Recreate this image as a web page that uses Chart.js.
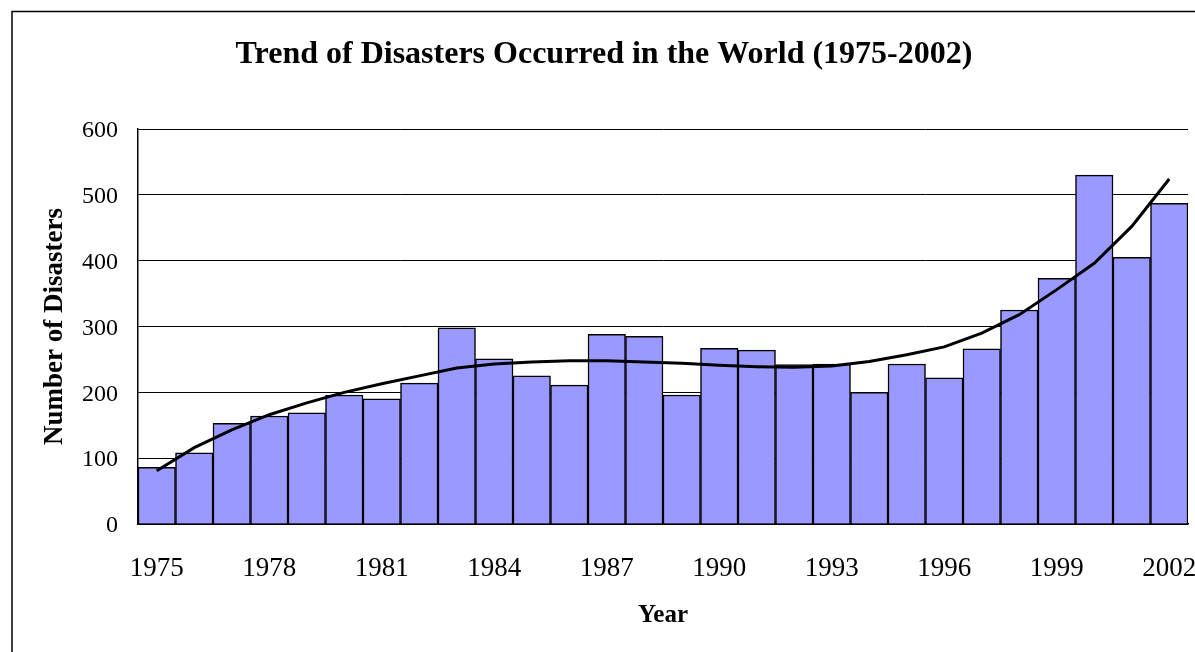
<!DOCTYPE html>
<html>
<head>
<meta charset="utf-8">
<style>
  html, body { margin: 0; padding: 0; background: #fff; }
  #wrap { width: 1195px; height: 652px; position: relative; }
</style>
<script src="https://cdn.jsdelivr.net/npm/chart.js@4.4.1/dist/chart.umd.min.js"></script>
</head>
<body>
<div id="wrap"><canvas id="c" width="1195" height="652"></canvas></div>
<script>
// ---- data ----
const years = ['1975','1976','1977','1978','1979','1980','1981','1982','1983','1984',
               '1985','1986','1987','1988','1989','1990','1991','1992','1993','1994',
               '1995','1996','1997','1998','1999','2000','2001','2002'];
const disasters = [86, 108, 153, 164, 169, 196, 190, 214, 298, 251,
                   225, 211, 288, 285, 196, 267, 264, 242, 243, 200,
                   243, 222, 266, 325, 373, 530, 405, 487];
const trend = [81, 116, 143, 166, 184, 200, 213, 225, 237, 243,
               246, 248, 248, 246, 244, 241, 239, 238, 240, 247,
               257, 269, 290, 318, 356, 396, 452, 524];
const xTickLabels = ['1975','1978','1981','1984','1987','1990','1993','1996','1999','2002'];
const yTicks = [0, 100, 200, 300, 400, 500, 600];

const SERIF = "'Liberation Serif', 'Times New Roman', serif";

const framePlugin = {
  id: 'frame',
  beforeDraw(chart) {
    const ctx = chart.ctx;
    ctx.save();
    ctx.fillStyle = '#fff';
    ctx.fillRect(0, 0, chart.width, chart.height);
    ctx.strokeStyle = '#000';
    ctx.lineWidth = 1.5;
    ctx.beginPath();
    ctx.moveTo(12, chart.height + 5);
    ctx.lineTo(12, 11.5);
    ctx.lineTo(chart.width + 5, 11.5);
    ctx.stroke();
    ctx.restore();
  }
};

new Chart(document.getElementById('c'), {
  type: 'bar',
  data: {
    labels: years,
    datasets: [
      {
        type: 'line',
        label: 'Trend',
        data: trend,
        borderColor: '#000',
        borderWidth: 3,
        pointRadius: 0,
        tension: 0,
        fill: false,
        order: 0
      },
      {
        type: 'bar',
        label: 'Number of Disasters',
        data: disasters,
        backgroundColor: '#9999FF',
        borderColor: '#000',
        borderWidth: 1.5,
        borderSkipped: 'bottom',
        categoryPercentage: 1.0,
        barPercentage: 1.0,
        order: 1
      }
    ]
  },
  options: {
    responsive: false,
    animation: false,
    devicePixelRatio: 1,
    layout: { padding: { left: 20, top: 11, right: 7, bottom: 0 } },
    plugins: {
      legend: { display: false },
      tooltip: { enabled: false },
      title: {
        display: true,
        text: 'Trend of Disasters Occurred in the World (1975-2002)',
        color: '#000',
        font: { family: SERIF, size: 32, weight: 'bold' },
        padding: { top: 25, bottom: 54.6 }
      }
    },
    scales: {
      x: {
        grid: { display: false, drawTicks: false },
        border: { display: true, color: '#000', width: 1.5 },
        ticks: {
          autoSkip: false,
          maxRotation: 0,
          minRotation: 0,
          padding: 29,
          color: '#000',
          font: { family: SERIF, size: 27 },
          callback: function(value, index) {
            const y = years[index];
            return xTickLabels.includes(y) ? y : '';
          }
        },
        title: {
          display: true,
          text: 'Year',
          color: '#000',
          font: { family: SERIF, size: 25, weight: 'bold' },
          padding: { top: 0, bottom: 21 }
        },
        afterFit(scale) {
          scale.height = 128;
          scale.paddingLeft = 0;
          scale.paddingRight = 0;
        }
      },
      y: {
        min: 0,
        max: 600,
        grid: { color: '#000', lineWidth: 1, drawTicks: false },
        border: { display: true, color: '#000', width: 1.5 },
        afterBuildTicks(scale) {
          scale.ticks = yTicks.map(v => ({ value: v }));
        },
        ticks: {
          padding: 20,
          labelOffset: 2,
          color: '#000',
          font: { family: SERIF, size: 24 }
        },
        title: {
          display: true,
          text: 'Number of Disasters',
          color: '#000',
          font: { family: SERIF, size: 27, weight: 'bold' },
          padding: { top: 18.6, bottom: 0 }
        },
        afterFit(scale) {
          scale.width = 118;
        }
      }
    }
  },
  plugins: [framePlugin]
});
</script>
</body>
</html>
